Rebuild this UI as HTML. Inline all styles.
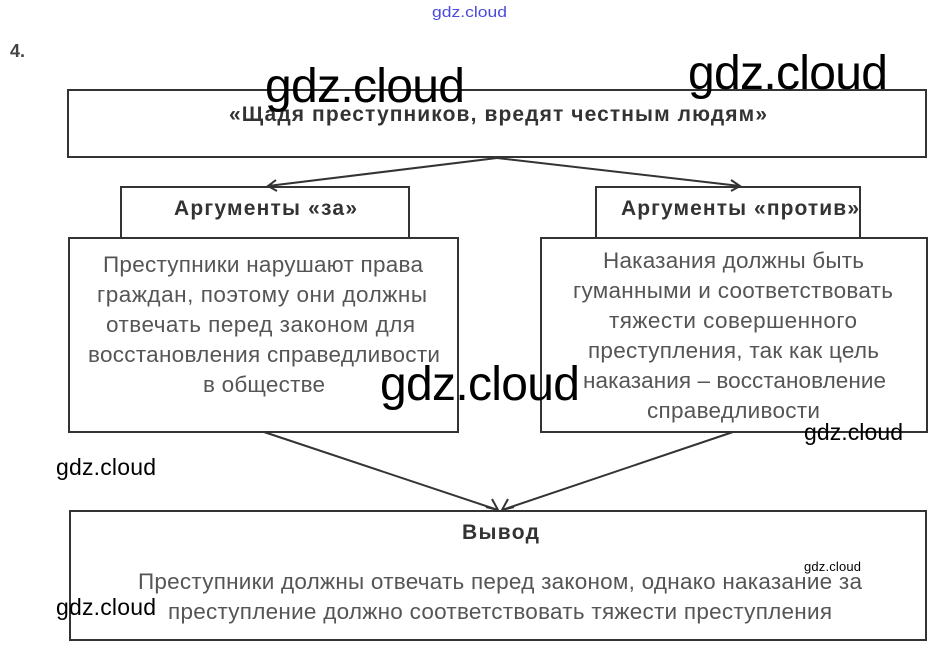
<!DOCTYPE html>
<html><head><meta charset="utf-8"><style>
body{margin:0;background:#fff;width:938px;height:652px;overflow:hidden}
svg{display:block}
text{font-family:"Liberation Sans",sans-serif}
</style></head><body>
<svg width="938" height="652" viewBox="0 0 938 652">
<g fill="none" stroke="#333" stroke-width="2">
<rect x="68" y="90" width="858" height="67"/>
<rect x="121" y="187" width="288" height="51"/>
<rect x="596" y="187" width="264" height="51"/>
<rect x="69" y="238" width="389" height="194"/>
<rect x="541" y="238" width="386" height="194"/>
<rect x="70" y="511" width="856" height="129"/>
<path d="M497 158 L268 186 M276 180 L268 186 L277 191"/>
<path d="M497 158 L740 186 M731 180 L740 186 L731 191"/>
<path d="M264 432 L498 510 M486 507 L498 510 L492 499"/>
<path d="M733 432 L502 510 M508 499 L502 510 L514 507"/>
</g>
<text x="432" y="17" font-size="15" fill="#4a4adf" textLength="75" lengthAdjust="spacingAndGlyphs">gdz.cloud</text>
<text x="10" y="57" font-size="18" font-weight="bold" fill="#444">4.</text>
<g fill="#333" font-weight="bold" font-size="21" lengthAdjust="spacingAndGlyphs">
<text x="229" y="121" textLength="538">«Щадя преступников, вредят честным людям»</text>
<text x="174" y="215" textLength="183">Аргументы «за»</text>
<text x="621" y="215" textLength="238">Аргументы «против»</text>
<text x="462" y="539" textLength="77">Вывод</text>
</g>
<g fill="#555" font-size="22.5" lengthAdjust="spacingAndGlyphs">
<text x="103" y="272" textLength="320">Преступники нарушают права</text>
<text x="97" y="302" textLength="330">граждан, поэтому они должны</text>
<text x="106" y="332" textLength="309">отвечать перед законом для</text>
<text x="88" y="362" textLength="352">восстановления справедливости</text>
<text x="203" y="392" textLength="122">в обществе</text>
<text x="603" y="268" textLength="261">Наказания должны быть</text>
<text x="573" y="298" textLength="320">гуманными и соответствовать</text>
<text x="609" y="328" textLength="248">тяжести совершенного</text>
<text x="588" y="358" textLength="291">преступления, так как цель</text>
<text x="583" y="388" textLength="303">наказания – восстановление</text>
<text x="647" y="418" textLength="173">справедливости</text>
<text x="138" y="589" textLength="724">Преступники должны отвечать перед законом, однако наказание за</text>
<text x="168" y="619" textLength="664">преступление должно соответствовать тяжести преступления</text>
</g>
<g fill="#000" lengthAdjust="spacingAndGlyphs">
<text x="265" y="102" font-size="48" textLength="200">gdz.cloud</text>
<text x="688" y="89" font-size="48" textLength="200">gdz.cloud</text>
<text x="380" y="400" font-size="48" textLength="200">gdz.cloud</text>
<text x="804" y="440" font-size="23" textLength="99">gdz.cloud</text>
<text x="56" y="475" font-size="23" textLength="100">gdz.cloud</text>
<text x="56" y="615" font-size="23" textLength="100">gdz.cloud</text>
<text x="804" y="571" font-size="13" textLength="57">gdz.cloud</text>
</g>
</svg>
</body></html>
